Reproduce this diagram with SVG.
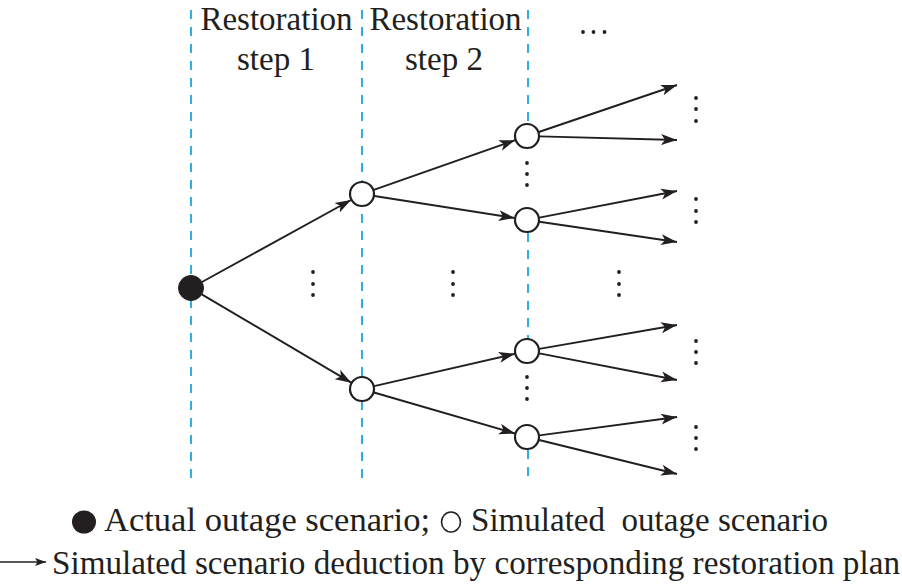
<svg xmlns="http://www.w3.org/2000/svg" width="902" height="585" viewBox="0 0 902 585">
<style>
.lbl{font-family:"Liberation Serif","Times New Roman",serif;fill:#231f20;}
.dash{stroke:#29a9e0;stroke-width:1.9;stroke-dasharray:9 8;fill:none;}
.edge{stroke:#231f20;stroke-width:1.9;fill:none;marker-end:url(#ah);}
.node{fill:#fff;stroke:#231f20;stroke-width:2.2;}
.root{fill:#231f20;stroke:#231f20;stroke-width:1;}
.dot{fill:#231f20;}
</style>
<defs>
<marker id="ah" markerUnits="userSpaceOnUse" markerWidth="17" markerHeight="12" refX="16" refY="5.5" orient="auto" viewBox="0 0 17 11">
<path d="M0,0 L16,5.5 L0,11 L4,5.5 Z" fill="#231f20"/>
</marker>
<marker id="ah2" markerUnits="userSpaceOnUse" markerWidth="12" markerHeight="9" refX="11" refY="4" orient="auto" viewBox="0 0 12 8">
<path d="M0,0 L11,4 L0,8 L2.5,4 Z" fill="#231f20"/>
</marker>
</defs>
<rect width="902" height="585" fill="#fff"/>
<g id="stage-lines">
<line class="dash" x1="191" y1="10" x2="191" y2="480"/>
<line class="dash" x1="362" y1="10" x2="362" y2="480"/>
<line class="dash" x1="528" y1="10" x2="528" y2="124"/>
<line class="dash" x1="528" y1="233" x2="528" y2="339"/>
<line class="dash" x1="528" y1="450" x2="528" y2="480"/>
</g>
<g id="headers">
<text class="lbl" x="276.5" y="30" font-size="33" text-anchor="middle">Restoration</text>
<text class="lbl" x="276" y="70" font-size="33" text-anchor="middle">step 1</text>
<text class="lbl" x="445.5" y="30" font-size="33" text-anchor="middle">Restoration</text>
<text class="lbl" x="444" y="70" font-size="33" text-anchor="middle">step 2</text>
<g id="hellipsis" class="dot">
<circle cx="583" cy="32" r="1.9"/><circle cx="593.5" cy="32" r="1.9"/><circle cx="604.5" cy="32" r="1.9"/>
</g>
</g>
<g id="connectors">
<line class="edge" x1="201.96" y1="281.98" x2="351.04" y2="200.02"/>
<line class="edge" x1="201.76" y1="294.36" x2="351.24" y2="382.64"/>
<line class="edge" x1="373.79" y1="189.86" x2="515.21" y2="140.15"/>
<line class="edge" x1="374.35" y1="195.95" x2="514.65" y2="218.05"/>
<line class="edge" x1="374.18" y1="386.19" x2="514.82" y2="353.81"/>
<line class="edge" x1="374.0" y1="392.49" x2="515.0" y2="433.51"/>
<line class="edge" x1="538.84" y1="131.98" x2="677" y2="85"/>
<line class="edge" x1="539.5" y1="136.33" x2="677" y2="140"/>
<line class="edge" x1="539.27" y1="217.63" x2="677" y2="191"/>
<line class="edge" x1="539.37" y1="221.81" x2="677" y2="242"/>
<line class="edge" x1="539.32" y1="348.86" x2="677" y2="325"/>
<line class="edge" x1="539.27" y1="353.37" x2="677" y2="380"/>
<line class="edge" x1="539.39" y1="435.35" x2="677" y2="417"/>
<line class="edge" x1="539.14" y1="439.99" x2="677" y2="474"/>
</g>
<g id="n0"><circle class="root" cx="191" cy="288" r="12.5"/></g>
<g id="n1"><circle class="node" cx="362" cy="194" r="12"/></g>
<g id="n2"><circle class="node" cx="362" cy="389" r="12"/></g>
<g id="n3"><circle class="node" cx="527" cy="136" r="12"/></g>
<g id="n4"><circle class="node" cx="527" cy="220" r="12"/></g>
<g id="n5"><circle class="node" cx="527" cy="351" r="12"/></g>
<g id="n6"><circle class="node" cx="527" cy="437" r="12"/></g>
<g id="vellipses" class="dot">
<circle cx="313" cy="272" r="1.9"/><circle cx="313" cy="284" r="1.9"/><circle cx="313" cy="295" r="1.9"/>
<circle cx="453" cy="272" r="1.9"/><circle cx="453" cy="284" r="1.9"/><circle cx="453" cy="295" r="1.9"/>
<circle cx="619" cy="272" r="1.9"/><circle cx="619" cy="284" r="1.9"/><circle cx="619" cy="295" r="1.9"/>
<circle cx="527" cy="163" r="1.9"/><circle cx="527" cy="174" r="1.9"/><circle cx="527" cy="185" r="1.9"/>
<circle cx="527" cy="377" r="1.9"/><circle cx="527" cy="388" r="1.9"/><circle cx="527" cy="399" r="1.9"/>
<circle cx="696" cy="98" r="1.9"/><circle cx="696" cy="109" r="1.9"/><circle cx="696" cy="121" r="1.9"/>
<circle cx="696" cy="199" r="1.9"/><circle cx="696" cy="211" r="1.9"/><circle cx="696" cy="222" r="1.9"/>
<circle cx="696" cy="341" r="1.9"/><circle cx="696" cy="352" r="1.9"/><circle cx="696" cy="363" r="1.9"/>
<circle cx="696" cy="427" r="1.9"/><circle cx="696" cy="438" r="1.9"/><circle cx="696" cy="449" r="1.9"/>
</g>
<g id="legend">
<ellipse cx="84" cy="522" rx="12" ry="11.5" fill="#231f20"/>
<text class="lbl" x="104" y="531" font-size="33" textLength="326" lengthAdjust="spacingAndGlyphs">Actual outage scenario;</text>
<ellipse cx="451" cy="522" rx="9.5" ry="10" fill="#fff" stroke="#231f20" stroke-width="1.6"/>
<text class="lbl" x="471" y="531" font-size="33" textLength="357" lengthAdjust="spacingAndGlyphs" xml:space="preserve">Simulated  outage scenario</text>
<line x1="0" y1="562" x2="46" y2="562" stroke="#231f20" stroke-width="1.6" marker-end="url(#ah2)"/>
<text class="lbl" x="52" y="574" font-size="33" textLength="848" lengthAdjust="spacingAndGlyphs">Simulated scenario deduction by corresponding restoration plan</text>
</g>
</svg>
